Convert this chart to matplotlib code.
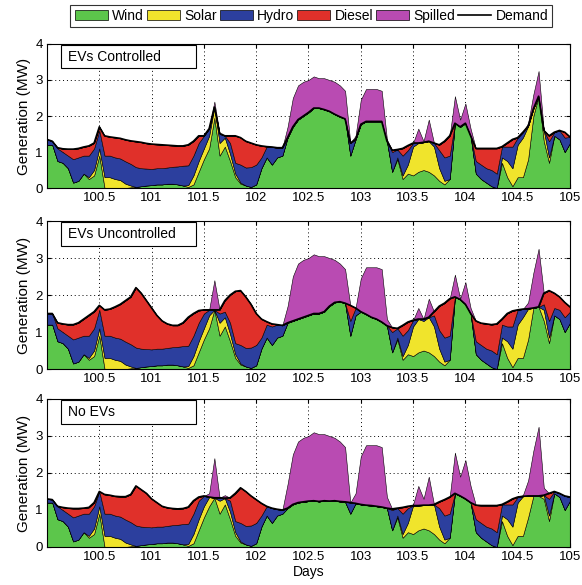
"""Stacked generation mix for three EV charging scenarios (days 100-105)."""

import numpy as np
import matplotlib

matplotlib.use("Agg")
import matplotlib.pyplot as plt
from matplotlib.lines import Line2D
from matplotlib.patches import Patch, Rectangle

plt.rcParams["font.family"] = ["Liberation Sans", "DejaVu Sans"]

# sample times, 0.05 day apart
days = np.round(np.arange(100.0, 105.0001, 0.05), 2)

# available wind (MW), shared by all scenarios
wind_avail = [
    1.20, 1.20, 0.75, 0.70, 0.55, 0.15, 0.20, 0.40, 0.25, 0.35, 0.90,
    0.00, 0.00, 0.00, 0.00, 0.00, 0.02, 0.03, 0.05, 0.07, 0.08,
    0.10, 0.10, 0.12, 0.12, 0.10, 0.07, 0.03, 0.10, 0.45, 0.80,
    1.10, 1.95, 0.90, 1.15, 0.75, 0.30, 0.12, 0.07, 0.03, 0.10,
    0.55, 0.85, 0.65, 0.85, 0.90, 1.70, 2.50, 2.85, 2.95, 3.00,
    3.10, 3.05, 3.05, 3.00, 2.95, 2.85, 2.70, 0.90, 1.45, 2.45,
    2.75, 2.75, 2.75, 2.70, 1.35, 0.45, 0.80, 0.25, 0.40, 0.35,
    0.45, 0.50, 0.45, 0.35, 0.20, 0.10, 0.25, 2.55, 1.90, 2.35,
    1.65, 0.40, 0.25, 0.15, 0.05, 0.00, 0.70, 0.30, 0.05, 0.30,
    0.30, 0.80, 2.00, 2.65, 1.30, 0.70, 1.45, 1.35, 1.00, 1.25,
]

# available solar (MW)
solar_avail = [
    0.00, 0.00, 0.00, 0.00, 0.00, 0.00, 0.00, 0.00, 0.05, 0.15, 0.20,
    0.30, 0.30, 0.25, 0.22, 0.12, 0.05, 0.00, 0.00, 0.00, 0.00,
    0.00, 0.00, 0.00, 0.00, 0.00, 0.00, 0.05, 0.25, 0.30, 0.30,
    0.35, 0.45, 0.35, 0.25, 0.20, 0.10, 0.03, 0.00, 0.00, 0.00,
    0.00, 0.00, 0.00, 0.00, 0.00, 0.00, 0.00, 0.00, 0.00, 0.00,
    0.00, 0.00, 0.00, 0.00, 0.00, 0.00, 0.00, 0.00, 0.00, 0.00,
    0.00, 0.00, 0.00, 0.00, 0.00, 0.00, 0.05, 0.10, 0.25, 0.80,
    1.20, 0.80, 1.45, 0.80, 0.35, 0.10, 0.00, 0.00, 0.00, 0.00,
    0.00, 0.00, 0.00, 0.00, 0.00, 0.00, 0.15, 0.45, 0.50, 0.90,
    1.10, 1.00, 0.60, 0.60, 0.30, 0.15, 0.00, 0.00, 0.00, 0.00,
]

# hydro output available (MW)
hydro_avail = [
    0.40, 0.40, 0.35, 0.30, 0.35, 0.65, 0.65, 0.50, 0.60, 0.60, 0.50,
    0.60, 0.60, 0.60, 0.60, 0.62, 0.60, 0.55, 0.50, 0.47, 0.45,
    0.45, 0.45, 0.45, 0.47, 0.50, 0.55, 0.55, 0.55, 0.50, 0.40,
    0.30, 0.20, 0.25, 0.15, 0.30, 0.30, 0.50, 0.50, 0.55, 0.55,
    0.30, 0.35, 0.50, 0.40, 0.30, 0.20, 0.20, 0.20, 0.20, 0.20,
    0.20, 0.20, 0.20, 0.20, 0.20, 0.20, 0.20, 0.40, 0.20, 0.20,
    0.20, 0.20, 0.20, 0.20, 0.20, 0.55, 0.30, 0.55, 0.40, 0.30,
    0.20, 0.20, 0.20, 0.30, 0.50, 0.65, 0.65, 0.30, 0.30, 0.30,
    0.30, 0.35, 0.40, 0.40, 0.45, 0.40, 0.35, 0.40, 0.60, 0.40,
    0.30, 0.30, 0.30, 0.30, 0.15, 0.45, 0.20, 0.25, 0.40, 0.30,
]

demand_controlled = [
    1.35, 1.30, 1.12, 1.09, 1.08, 1.08, 1.10, 1.14, 1.17, 1.25, 1.70,
    1.45, 1.42, 1.40, 1.38, 1.34, 1.31, 1.29, 1.27, 1.24, 1.22,
    1.21, 1.20, 1.19, 1.18, 1.17, 1.17, 1.20, 1.30, 1.45, 1.45,
    1.65, 2.25, 1.52, 1.45, 1.45, 1.45, 1.40, 1.30, 1.25, 1.20,
    1.17, 1.15, 1.14, 1.12, 1.12, 1.40, 1.70, 1.90, 2.00, 2.10,
    2.22, 2.22, 2.18, 2.13, 2.05, 1.98, 1.92, 1.25, 1.35, 1.77,
    1.85, 1.85, 1.85, 1.85, 1.30, 1.05, 1.07, 1.10, 1.18, 1.25,
    1.25, 1.27, 1.30, 1.25, 1.20, 1.30, 1.45, 1.80, 1.70, 1.80,
    1.45, 1.10, 1.10, 1.10, 1.10, 1.10, 1.15, 1.25, 1.35, 1.40,
    1.55, 1.72, 2.20, 2.55, 1.60, 1.45, 1.55, 1.60, 1.55, 1.42,
]

demand_uncontrolled = [
    1.50, 1.50, 1.25, 1.22, 1.20, 1.20, 1.25, 1.35, 1.45, 1.55, 1.72,
    1.60, 1.62, 1.68, 1.75, 1.85, 1.95, 2.20, 2.05, 1.85, 1.65,
    1.45, 1.30, 1.22, 1.18, 1.18, 1.25, 1.40, 1.50, 1.58, 1.60,
    1.60, 1.60, 1.60, 1.85, 2.00, 2.10, 2.12, 1.95, 1.75, 1.50,
    1.35, 1.28, 1.22, 1.20, 1.18, 1.25, 1.30, 1.35, 1.40, 1.45,
    1.50, 1.50, 1.55, 1.70, 1.80, 1.82, 1.78, 1.72, 1.65, 1.55,
    1.48, 1.40, 1.35, 1.27, 1.17, 1.12, 1.10, 1.18, 1.27, 1.32,
    1.35, 1.35, 1.40, 1.55, 1.70, 1.78, 1.90, 1.95, 1.88, 1.75,
    1.50, 1.30, 1.24, 1.22, 1.20, 1.22, 1.35, 1.50, 1.57, 1.60,
    1.62, 1.63, 1.65, 1.68, 2.05, 2.12, 2.05, 1.95, 1.80, 1.68,
]

demand_no_ev = [
    1.30, 1.28, 1.10, 1.07, 1.05, 1.04, 1.04, 1.05, 1.07, 1.20, 1.50,
    1.42, 1.40, 1.37, 1.36, 1.36, 1.42, 1.65, 1.55, 1.45, 1.30,
    1.20, 1.10, 1.06, 1.04, 1.03, 1.04, 1.08, 1.25, 1.35, 1.38,
    1.35, 1.33, 1.33, 1.32, 1.33, 1.45, 1.60, 1.50, 1.38, 1.28,
    1.18, 1.10, 1.05, 1.02, 1.00, 1.05, 1.15, 1.20, 1.22, 1.24,
    1.25, 1.23, 1.25, 1.24, 1.25, 1.23, 1.22, 1.20, 1.18, 1.15,
    1.13, 1.12, 1.10, 1.08, 1.05, 1.03, 1.05, 1.07, 1.10, 1.12,
    1.12, 1.13, 1.13, 1.15, 1.22, 1.28, 1.35, 1.45, 1.38, 1.30,
    1.20, 1.13, 1.12, 1.12, 1.12, 1.12, 1.15, 1.22, 1.30, 1.35,
    1.37, 1.38, 1.38, 1.38, 1.40, 1.45, 1.50, 1.45, 1.38, 1.35,
]

scenarios = ["EVs Controlled", "EVs Uncontrolled", "No EVs"]
demands = [demand_controlled, demand_uncontrolled, demand_no_ev]

layer_names = ["Wind", "Solar", "Hydro", "Diesel", "Spilled"]
layer_colors = ["#5cc64b", "#f0e42c", "#2c3f9e", "#e0302a", "#b94bb2"]

xtick_values = [100.5, 101, 101.5, 102, 102.5, 103, 103.5, 104, 104.5, 105]
xtick_labels = ["100.5", "101", "101.5", "102", "102.5", "103", "103.5",
                "104", "104.5", "105"]


def dispatch(demand):
    """Split demand into wind, solar, hydro, diesel plus spilled renewables."""
    demand = np.asarray(demand, dtype=float)
    wind_a = np.asarray(wind_avail, dtype=float)
    solar_a = np.asarray(solar_avail, dtype=float)
    wind = np.minimum(wind_a, demand)
    solar = np.minimum(solar_a, demand - wind)
    hydro = np.minimum(np.asarray(hydro_avail, dtype=float), demand - wind - solar)
    diesel = demand - wind - solar - hydro
    spilled = wind_a + solar_a - wind - solar
    return wind, solar, hydro, diesel, spilled


fig = plt.figure(figsize=(5.82, 5.85), dpi=100)

# (bottom, height) of each panel in figure fractions
panel_boxes = [(0.6786, 0.2462), (0.3692, 0.2530), (0.0650, 0.2530)]

for idx, (title, demand) in enumerate(zip(scenarios, demands)):
    bottom, height = panel_boxes[idx]
    ax = fig.add_axes([0.0808, bottom, 0.8985, height])
    ax.set_axisbelow(True)

    layers = dispatch(demand)
    ax.stackplot(days, *layers, colors=layer_colors,
                 edgecolor="k", linewidth=0.4, zorder=2)
    ax.plot(days, demand, color="k", linewidth=1.2, zorder=3)

    ax.set_xlim(100, 105)
    ax.set_ylim(0, 4)
    ax.set_xticks(xtick_values)
    ax.set_xticklabels(xtick_labels)
    ax.set_yticks([0, 1, 2, 3, 4])
    ax.tick_params(direction="in", top=True, right=True, length=3,
                   labelsize=9.5, pad=3)
    ax.grid(True, color="k", linestyle=(0, (1, 3)), linewidth=0.7)
    for spine in ax.spines.values():
        spine.set_linewidth(0.8)
    ax.set_ylabel("Generation (MW)", fontsize=11, labelpad=3)

    # scenario label box
    ax.add_patch(Rectangle((0.026, 0.83), 0.258, 0.163, transform=ax.transAxes,
                           facecolor="white", edgecolor="k", linewidth=0.8,
                           zorder=5))
    ax.text(0.04, 0.912, title, transform=ax.transAxes, fontsize=10,
            va="center", ha="left", zorder=6)

    if idx == 2:
        ax.set_xlabel("Days", fontsize=10, labelpad=1)

handles = [Patch(facecolor=c, edgecolor="k", linewidth=0.5) for c in layer_colors]
handles.append(Line2D([], [], color="k", linewidth=1.2))
labels = layer_names + ["Demand"]
leg = fig.legend(handles, labels, loc="center", bbox_to_anchor=(0.535, 0.973),
                 ncol=6, frameon=True, fancybox=False, edgecolor="k",
                 fontsize=10, handlelength=2.4, handleheight=0.8,
                 handletextpad=0.3, columnspacing=0.2, borderpad=0.3)
leg.get_frame().set_linewidth(0.8)

fig.savefig("out.png", dpi=100)
